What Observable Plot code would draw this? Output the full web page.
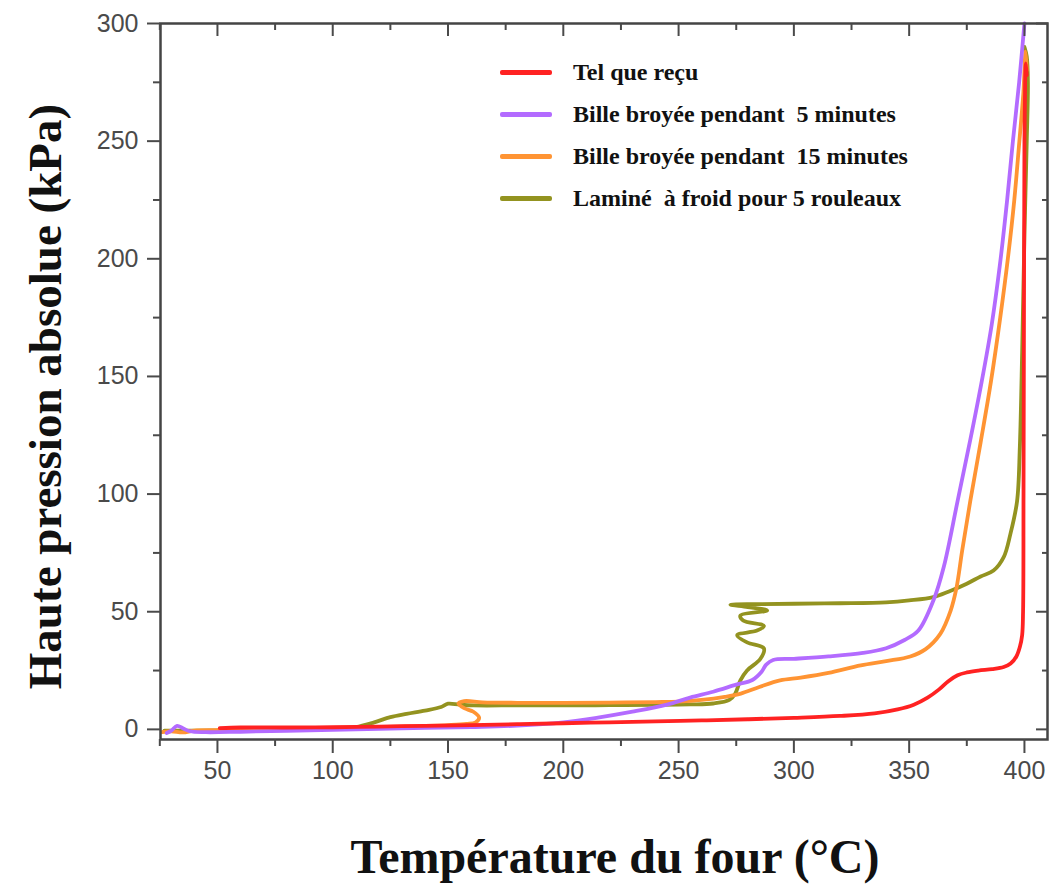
<!DOCTYPE html>
<html><head><meta charset="utf-8">
<script src="https://cdn.jsdelivr.net/npm/d3@7"></script>
<script src="https://cdn.jsdelivr.net/npm/@observablehq/plot@0.6"></script>
<style>
body{margin:0;background:#fff;}
#wrap{position:relative;width:1055px;height:891px;}
#legend{position:absolute;left:500px;top:51px;font-family:"Liberation Serif","Times New Roman",serif;font-weight:bold;font-size:24px;color:#111;}
.item{display:flex;align-items:center;height:42px;white-space:pre;}
.sw{width:52px;height:5px;margin-right:21px;border-radius:2px;}
</style></head><body><div id="wrap"><div id="legend"></div></div>
<script>
const seriesNames = ["Tel que reçu", "Bille broyée pendant  5 minutes", "Bille broyée pendant  15 minutes", "Laminé  à froid pour 5 rouleaux"];
const seriesColors = ["#ff2222", "#b36bff", "#ff9433", "#939320"];

const redT = [51, 60, 80, 100, 120, 140, 160, 180, 200, 220, 240, 260, 280, 300, 320, 335, 345, 352, 358, 363, 367, 371, 375, 380, 386, 391, 394, 396.5, 398, 399, 399.4, 399.6, 399.8, 400, 400.3, 400.6, 401];
const redP = [0.5, 0.8, 0.8, 0.9, 1.2, 1.5, 1.8, 2.2, 2.6, 3.0, 3.4, 3.8, 4.3, 4.9, 5.7, 6.8, 8.5, 10.5, 13.5, 17, 20.5, 23, 24.2, 25, 25.6, 26.5, 28, 31, 35, 40, 50, 100, 180, 250, 275, 283, 278];

const purT = [28, 30, 32.5, 35, 38, 45, 60, 80, 100, 120, 140, 160, 180, 200, 215, 230, 245, 255, 265, 275, 282, 286, 288, 291, 300, 315, 330, 340, 348, 354, 360.6, 365, 371, 376.5, 381.5, 385.8, 389.3, 392.5, 395, 397.7, 400];
const purP = [-1.5, -0.5, 1.5, 0.5, -0.8, -1.2, -1.0, -0.6, -0.2, 0.2, 0.6, 1.0, 1.6, 3.0, 5, 7.5, 10.5, 13.5, 16, 19, 21, 24.5, 27.5, 29.5, 30, 31, 32.5, 34.5, 38, 42, 55, 69, 97, 123, 148, 172, 197, 225, 250, 275, 300];

const oraT = [26, 30, 35, 40, 50, 70, 90, 110, 130, 150, 158, 162, 163.5, 161, 157, 154.5, 157, 165, 180, 200, 220, 240, 250, 260, 270, 277, 285, 294, 303, 315, 329, 340, 350.5, 357, 363.5, 368, 370.5, 373, 376.5, 381, 385.5, 389.5, 392.8, 395.6, 397.8, 399.5, 400.5, 401];
const oraP = [-1.2, -0.8, -1.3, -0.5, -0.3, 0, 0.4, 0.8, 1.2, 1.8, 2.3, 3, 5, 7.5, 9, 11, 12, 11.5, 11.3, 11.3, 11.4, 11.6, 11.8, 12.5, 13.8, 15.2, 18, 20.8, 22, 24, 27.2, 29, 31, 34, 40.6, 50.5, 60, 76, 97, 122, 148, 175, 200, 225, 250, 270, 288, 280];

const oliT = [27, 40, 60, 80, 100, 110, 118, 125, 132, 140, 147, 150, 155, 161, 180, 200, 220, 240, 255, 265, 272, 274.6, 276.8, 279.7, 285.5, 287, 279.7, 275.4, 284, 287, 278, 276.8, 288.4, 280, 272.5, 285, 300, 320, 340, 350, 360.5, 367, 375, 381, 386.6, 391, 393.9, 396.8, 398, 399, 400, 401, 401.5, 401, 400];
const oliP = [-0.5, -0.5, -0.3, 0, 0.4, 1, 3, 5.2, 6.6, 8, 9.5, 10.9, 10.5, 10.2, 10.2, 10.2, 10.3, 10.4, 10.6, 11, 12.5, 15.3, 20.8, 25, 30, 34.4, 37, 40, 42, 44, 46.3, 48.4, 50.5, 52, 53, 53.2, 53.4, 53.6, 54, 54.8, 56.2, 58.5, 61.9, 65, 67.5, 73.2, 83, 97, 120, 160, 210, 250, 275, 286, 290];

const xTicks = [50, 100, 150, 200, 250, 300, 350, 400];
const xMinor = [25, 75, 125, 175, 225, 275, 325, 375];
const yTicks = [0, 50, 100, 150, 200, 250, 300];
const yMinor = [25, 75, 125, 175, 225, 275];
const xTitle = "Température du four (°C)";
const yTitle = "Haute pression absolue (kPa)";

const toRows = (T, P, i) => T.map((t, k) => ({t, p: P[k], s: seriesNames[i]}));
const series = [toRows(redT, redP, 0), toRows(purT, purP, 1), toRows(oraT, oraP, 2), toRows(oliT, oliP, 3)];
const drawOrder = [3, 2, 1, 0];

const serif = "Liberation Serif, Times New Roman, serif";
const noText = () => "";

const chart = Plot.plot({
  width: 1055,
  height: 891,
  marginLeft: 160,
  marginRight: 8,
  marginTop: 23,
  marginBottom: 152,
  style: {fontFamily: "Liberation Sans, Arial, sans-serif", background: "transparent"},
  x: {domain: [25.3, 410]},
  y: {domain: [-4.3, 300]},
  color: {domain: seriesNames, range: seriesColors},
  marks: [
    ...drawOrder.map(i => Plot.line(series[i], {x: "t", y: "p", stroke: seriesColors[i], strokeWidth: 3.8, curve: "catmull-rom"})),
    Plot.frame({stroke: "#444", strokeWidth: 2.5}),
    Plot.axisX({ticks: xTicks, tickSize: 14, tickPadding: 8, fontSize: 25, color: "#4a4a4a", strokeWidth: 2, label: null}),
    Plot.axisX({ticks: xMinor, tickSize: 7, tickFormat: noText, color: "#4a4a4a", strokeWidth: 2, label: null}),
    Plot.axisX({anchor: "top", ticks: xTicks, tickSize: -12, tickFormat: noText, color: "#4a4a4a", strokeWidth: 2, label: null}),
    Plot.axisX({anchor: "top", ticks: xMinor, tickSize: -6, tickFormat: noText, color: "#4a4a4a", strokeWidth: 2, label: null}),
    Plot.axisY({ticks: yTicks, tickSize: 13, tickPadding: 9, fontSize: 25, color: "#4a4a4a", strokeWidth: 2, label: null}),
    Plot.axisY({ticks: yMinor, tickSize: 7, tickFormat: noText, color: "#4a4a4a", strokeWidth: 2, label: null}),
    Plot.axisY({anchor: "right", ticks: yTicks, tickSize: -12, tickFormat: noText, color: "#4a4a4a", strokeWidth: 2, label: null}),
    Plot.axisY({anchor: "right", ticks: yMinor, tickSize: -6, tickFormat: noText, color: "#4a4a4a", strokeWidth: 2, label: null}),
    Plot.text([xTitle], {frameAnchor: "bottom", dx: 11, dy: 118, text: d => d, fontFamily: serif, fontWeight: "bold", fontSize: 48, fill: "#111", textAnchor: "middle", lineAnchor: "middle"}),
    Plot.text([yTitle], {frameAnchor: "left", dx: -115, dy: 15, rotate: -90, text: d => d, fontFamily: serif, fontWeight: "bold", fontSize: 47, fill: "#111", textAnchor: "middle", lineAnchor: "middle"})
  ]
});
document.getElementById("wrap").prepend(chart);

const legend = document.getElementById("legend");
seriesNames.forEach((name, i) => {
  const row = document.createElement("div");
  row.className = "item";
  const sw = document.createElement("div");
  sw.className = "sw";
  sw.style.background = seriesColors[i];
  const label = document.createElement("span");
  label.textContent = name;
  row.append(sw, label);
  legend.append(row);
});
</script>
</body></html>
